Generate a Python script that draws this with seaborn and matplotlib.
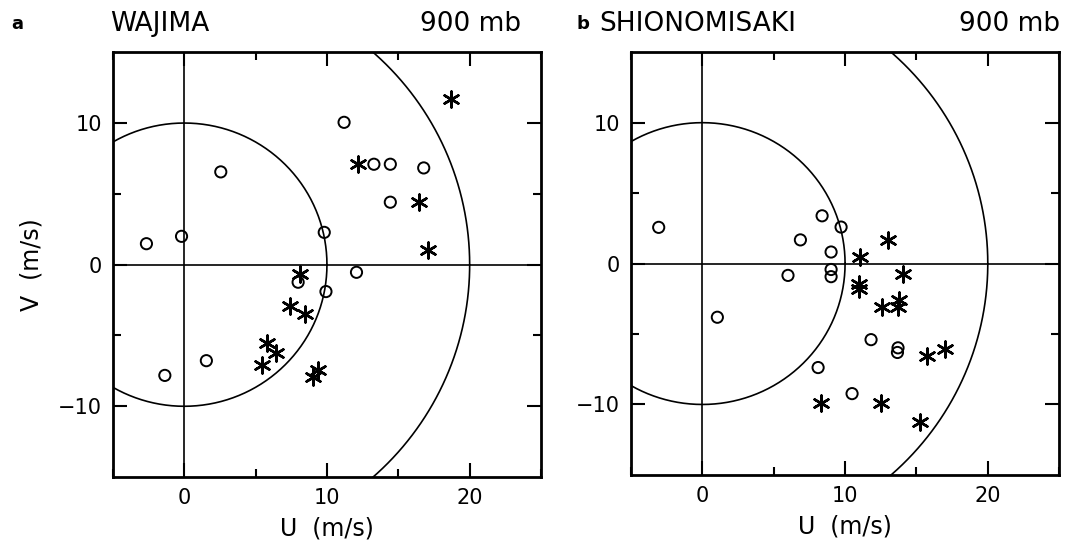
import matplotlib
matplotlib.use("Agg")
import matplotlib.pyplot as plt
import seaborn as sns
import numpy as np
import pandas as pd

# ---- data ----
waj_circle_u = [-2.65, -0.19, 2.56, -1.36, 1.55, 11.2, 13.29, 14.44, 16.78, 14.44, 9.81, 12.07, 9.93, 7.98]
waj_circle_v = [1.48, 2.0, 6.55, -7.82, -6.78, 10.05, 7.09, 7.09, 6.83, 4.41, 2.28, -0.54, -1.90, -1.24]
waj_star_u = [18.66, 12.16, 16.48, 17.07, 8.08, 7.44, 8.43, 5.77, 6.46, 5.42, 9.37, 9.04]
waj_star_v = [11.69, 7.11, 4.41, 1.01, -0.66, -2.93, -3.50, -5.56, -6.27, -7.11, -7.46, -7.91]

shi_circle_u = [-3.06, 1.05, 8.39, 9.72, 6.87, 9.02, 9.02, 9.02, 6.0, 11.82, 13.71, 13.67, 8.11, 10.49]
shi_circle_v = [2.57, -3.81, 3.39, 2.59, 1.68, 0.82, -0.42, -0.93, -0.84, -5.40, -5.98, -6.31, -7.38, -9.23]
shi_star_u = [12.99, 11.07, 14.04, 10.98, 10.98, 12.59, 13.79, 13.71, 15.72, 17.0, 8.29, 12.5, 15.23]
shi_star_v = [1.68, 0.47, -0.72, -1.47, -1.82, -3.06, -2.57, -3.06, -6.54, -6.03, -9.93, -9.88, -11.21]

panel_letters = ["a", "b"]
stations = ["WAJIMA", "SHIONOMISAKI"]
level = "900 mb"
circle_radii = [10, 20]
x_ticks = [0, 10, 20]
y_ticks = [-10, 0, 10]

sns.set_style("ticks")
plt.rcParams["font.family"] = ["DejaVu Sans"]
for k in ["text.color", "axes.labelcolor", "xtick.color", "ytick.color", "axes.edgecolor"]:
    plt.rcParams[k] = "black"

def make_df(cu, cv, su, sv):
    return pd.DataFrame({
        "U": list(cu) + list(su),
        "V": list(cv) + list(sv),
        "kind": ["o"] * len(cu) + ["s"] * len(su),
    })

dfs = [make_df(waj_circle_u, waj_circle_v, waj_star_u, waj_star_v),
       make_df(shi_circle_u, shi_circle_v, shi_star_u, shi_star_v)]

fig = plt.figure(figsize=(10.65, 5.44), dpi=100)
ax_pos = [[0.106, 0.123, 0.402, 0.781], [0.5925, 0.127, 0.402, 0.777]]

for i, df in enumerate(dfs):
    ax = fig.add_axes(ax_pos[i])
    ax.set_xlim(-5, 25)
    ax.set_ylim(-15, 15)
    ax.axhline(0, color="black", lw=1.2, zorder=1)
    ax.axvline(0, color="black", lw=1.2, zorder=1)
    t = np.linspace(0, 2 * np.pi, 721)
    for r in circle_radii:
        ax.plot(r * np.cos(t), r * np.sin(t), color="black", lw=1.2, zorder=1)
    sub_o = df[df["kind"] == "o"]
    sub_s = df[df["kind"] == "s"]
    sns.scatterplot(data=sub_o, x="U", y="V", ax=ax, marker="o", s=65,
                    facecolor="none", edgecolor="black", linewidth=1.4, zorder=3, legend=False)
    sns.scatterplot(data=sub_s, x="U", y="V", ax=ax, marker=(6, 2, 0), s=130,
                    color="black", linewidth=1.8, zorder=3, legend=False)
    ax.set_xticks(x_ticks)
    ax.set_yticks(y_ticks)
    ax.set_xticks([-5, 5, 15, 25], minor=True)
    ax.set_yticks([-5, 5], minor=True)
    ax.tick_params(which="both", direction="in", top=True, right=True, width=1.5,
                   labelsize=15, pad=8, colors="black")
    ax.tick_params(which="major", length=10)
    ax.tick_params(which="minor", length=6)
    for sp in ax.spines.values():
        sp.set_linewidth(2.0)
        sp.set_color("black")
    ax.set_xlabel("U  (m/s)", fontsize=17, labelpad=6, color="black")
    if i == 0:
        ax.set_ylabel("V  (m/s)", fontsize=17, labelpad=10, color="black")
    else:
        ax.set_ylabel("")

# titles
fig.text(0.011, 0.955, panel_letters[0], fontsize=13, fontweight="bold", va="center")
fig.text(0.103, 0.955, stations[0], fontsize=19, va="center")
fig.text(0.489, 0.955, level, fontsize=19, va="center", ha="right")
fig.text(0.541, 0.955, panel_letters[1], fontsize=13, fontweight="bold", va="center")
fig.text(0.563, 0.955, stations[1], fontsize=19, va="center")
fig.text(0.995, 0.955, level, fontsize=19, va="center", ha="right")

fig.savefig("out.png", dpi=100)
